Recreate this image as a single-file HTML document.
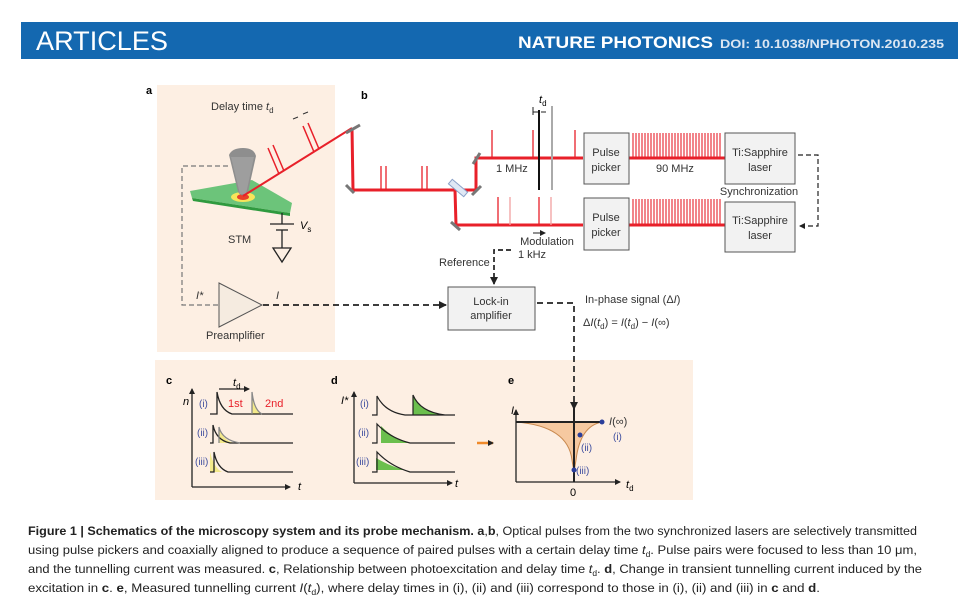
<!DOCTYPE html>
<html><head><meta charset="utf-8"><style>
body{margin:0;background:#fff;}
svg{display:block;font-family:"Liberation Sans",sans-serif;}
</style></head><body>
<svg width="978" height="610" viewBox="0 0 978 610" xmlns="http://www.w3.org/2000/svg">
<defs>
<marker id="ah" markerWidth="8" markerHeight="8" refX="7" refY="4" orient="auto" markerUnits="userSpaceOnUse"><path d="M0,0L8,4L0,8z" fill="#222"/></marker>
<marker id="ah2" markerWidth="6" markerHeight="6" refX="5" refY="3" orient="auto" markerUnits="userSpaceOnUse"><path d="M0,0L6,3L0,6z" fill="#222"/></marker>
</defs>
<rect x="21" y="22" width="937" height="37" fill="#1468b0"/>
<text x="36" y="50" fill="#fff" font-size="27" textLength="132" lengthAdjust="spacingAndGlyphs">ARTICLES</text>
<text x="518" y="48" fill="#fff" font-size="17" font-weight="bold" textLength="195" lengthAdjust="spacingAndGlyphs">NATURE PHOTONICS</text>
<text x="720" y="48" fill="#dbe6f2" font-size="12" font-weight="bold" textLength="224" lengthAdjust="spacingAndGlyphs">DOI: 10.1038/NPHOTON.2010.235</text>

<rect x="157" y="85" width="178" height="267" fill="#fdefe3"/>
<rect x="155" y="360" width="538" height="140" fill="#fdefe3"/>
<text x="146" y="94" font-size="11" font-weight="bold">a</text>
<text x="361" y="99" font-size="11" font-weight="bold">b</text>
<text x="211" y="110" font-size="11" fill="#333">Delay time <tspan font-style="italic">t</tspan><tspan font-size="8" dy="3">d</tspan></text>

<polygon points="190,191 252,180 292,203 290,213 192,198" fill="#6cc47a"/>
<polygon points="192,198 290,213 290,216 193,201" fill="#2f9a3f"/>
<ellipse cx="243" cy="197" rx="12" ry="5" fill="#f6e55a"/>
<ellipse cx="243" cy="197" rx="6" ry="3" fill="#e8402a"/>
<path d="M229,155 Q232,148 243,148 Q254,148 256,156 L248,192 Q243,199 238,192 Z" fill="#8e8e8e"/>
<path d="M231,157 L240,194 L246,194 L254,157Z" fill="#a8a8a8" opacity=".6"/>
<line x1="352" y1="128" x2="243" y2="196" stroke="#e8202a" stroke-width="2"/>
<g stroke="#e8202a" stroke-width="1.5" fill="none">
<path d="M279,174 L268,148 M284,171 L273,145 M314,152 L303,126 M319,149 L308,123"/>
</g>
<path d="M293,119 l5,-2 M303,114 l5,-2" stroke="#333" stroke-width="1"/>
<g stroke="#222" stroke-width="1.3" fill="none">
<line x1="282" y1="213" x2="282" y2="224"/><line x1="270" y1="224" x2="294" y2="224"/>
<line x1="276" y1="230" x2="288" y2="230"/><line x1="282" y1="230" x2="282" y2="248"/>
<polygon points="273,248 291,248 282,262"/></g>
<text x="300" y="229" font-size="11" font-style="italic">V<tspan font-size="8" dy="3" font-style="normal">s</tspan></text>
<text x="228" y="243" font-size="11" fill="#333">STM</text>
<polyline points="218,305 182,305 182,166 228,166" fill="none" stroke="#777" stroke-dasharray="5,3" stroke-width="1.2"/>
<polygon points="219,283 219,327 262,305" fill="#f5ebe0" stroke="#555" stroke-width="1"/>
<text x="196" y="299" font-size="11" font-style="italic" fill="#333">I*</text>
<text x="276" y="299" font-size="11" font-style="italic" fill="#333">I</text>
<text x="206" y="339" font-size="11" fill="#333">Preamplifier</text>
<line x1="263" y1="305" x2="446" y2="305" stroke="#222" stroke-width="1.7" stroke-dasharray="6,4" marker-end="url(#ah)"/>

<g stroke="#e8202a" stroke-width="3" fill="none">
<polyline points="352,128 353,190 476,190 476,158 583,158"/>
<polyline points="455,190 456,225 583,225"/>
<line x1="629" y1="158" x2="725" y2="158"/>
<line x1="629" y1="225" x2="725" y2="225"/>
</g>
<g stroke="#e8202a" stroke-width="1.3" fill="none">
<path d="M381,190v-24M386,190v-24M422,190v-24M427,190v-24"/>
<path d="M492,158v-28M533,158v-28M575,158v-28"/>
<path d="M498,225v-28M539,225v-28"/>
</g>
<g stroke="#f0a0a0" stroke-width="1.3"><path d="M510,225v-28M551,225v-28"/></g>
<g stroke="#e8202a" stroke-width="1.1">
<path d="M633,158v-25M636,158v-25M639,158v-25M642,158v-25M645,158v-25M648,158v-25M651,158v-25M654,158v-25M657,158v-25M660,158v-25M663,158v-25M666,158v-25M669,158v-25M672,158v-25M675,158v-25M678,158v-25M681,158v-25M684,158v-25M687,158v-25M690,158v-25M693,158v-25M696,158v-25M699,158v-25M702,158v-25M705,158v-25M708,158v-25M711,158v-25M714,158v-25M717,158v-25M720,158v-25"/>
<path d="M633,225v-26M636,225v-26M639,225v-26M642,225v-26M645,225v-26M648,225v-26M651,225v-26M654,225v-26M657,225v-26M660,225v-26M663,225v-26M666,225v-26M669,225v-26M672,225v-26M675,225v-26M678,225v-26M681,225v-26M684,225v-26M687,225v-26M690,225v-26M693,225v-26M696,225v-26M699,225v-26M702,225v-26M705,225v-26M708,225v-26M711,225v-26M714,225v-26M717,225v-26M720,225v-26"/>
</g>
<g stroke="#777" stroke-width="3">
<line x1="346" y1="133" x2="360" y2="125"/><line x1="346" y1="185" x2="354" y2="193"/>
<line x1="473" y1="164" x2="480" y2="153"/><line x1="472" y1="195" x2="481" y2="186"/>
<line x1="451" y1="222" x2="460" y2="230"/></g>
<rect x="448" y="185" width="20" height="6" fill="#dfe8f5" stroke="#8aa0c8" stroke-width="1" transform="rotate(40 458 188)"/>
<line x1="539" y1="110" x2="539" y2="190" stroke="#111" stroke-width="2"/>
<line x1="552" y1="106" x2="552" y2="190" stroke="#aaa" stroke-width="2"/>
<path d="M533,112h5M546,112h-5M533,107v8" stroke="#222" stroke-width="1"/>
<text x="539" y="103" font-size="11" font-style="italic">t<tspan font-size="8" dy="3" font-style="normal">d</tspan></text>
<text x="496" y="172" font-size="11" fill="#333">1 MHz</text>
<text x="656" y="172" font-size="11" fill="#333">90 MHz</text>
<g fill="#f2f2f2" stroke="#555" stroke-width="1">
<rect x="584" y="133" width="45" height="51"/><rect x="584" y="198" width="45" height="52"/>
<rect x="725" y="133" width="70" height="51"/><rect x="725" y="202" width="70" height="50"/>
<rect x="448" y="287" width="87" height="43"/></g>
<g font-size="11" fill="#333" text-anchor="middle">
<text x="606" y="156">Pulse</text><text x="606" y="171">picker</text>
<text x="606" y="221">Pulse</text><text x="606" y="236">picker</text>
<text x="760" y="156">Ti:Sapphire</text><text x="760" y="171">laser</text>
<text x="760" y="224">Ti:Sapphire</text><text x="760" y="239">laser</text>
<text x="491" y="305">Lock-in</text><text x="491" y="319">amplifier</text>
<text x="759" y="195">Synchronization</text>
<text x="547" y="245">Modulation</text><text x="532" y="258">1 kHz</text>
</g>
<path d="M533,233h12" stroke="#222" stroke-width="1" marker-end="url(#ah2)"/>
<polyline points="798,155 818,155 818,226 800,226" fill="none" stroke="#222" stroke-width="1.2" stroke-dasharray="5,3" marker-end="url(#ah2)"/>
<polyline points="511,250 494,250 494,284" fill="none" stroke="#222" stroke-width="1.7" stroke-dasharray="5,3" marker-end="url(#ah)"/>
<text x="439" y="266" font-size="11" fill="#333">Reference</text>
<polyline points="537,303 574,303 574,409" fill="none" stroke="#222" stroke-width="1.7" stroke-dasharray="6,4" marker-end="url(#ah)"/>
<text x="585" y="303" font-size="11" fill="#333">In-phase signal (Δ<tspan font-style="italic">I</tspan>)</text>
<text x="583" y="326" font-size="11" fill="#333">Δ<tspan font-style="italic">I</tspan>(<tspan font-style="italic">t</tspan><tspan font-size="8" dy="3">d</tspan><tspan dy="-3">) = </tspan><tspan font-style="italic">I</tspan>(<tspan font-style="italic">t</tspan><tspan font-size="8" dy="3">d</tspan><tspan dy="-3">) − </tspan><tspan font-style="italic">I</tspan>(∞)</text>

<!-- c -->
<text x="166" y="384" font-size="11" font-weight="bold">c</text>
<path d="M192,487V389M192,487H290" stroke="#222" stroke-width="1.3" fill="none" marker-end="url(#ah2)"/>
<path d="M192,390V389" stroke="#222" marker-end="url(#ah2)"/>
<text x="298" y="490" font-size="11" font-style="italic">t</text>
<text x="183" y="405" font-size="11" font-style="italic">n</text>
<g font-size="10" fill="#4050a0"><text x="199" y="407">(i)</text><text x="197" y="436">(ii)</text><text x="195" y="465">(iii)</text></g>
<g fill="#f3e98a" stroke="none">
<path d="M252,414 V392 Q254,410 262,414Z"/><path d="M219,443 V426 Q222,440 234,443Z"/><path d="M210,472 V452 Q214,468 222,472Z"/>
</g>
<g stroke="#222" stroke-width="1.3" fill="none">
<path d="M210,414H217V392Q220,410 232,414H293"/><path d="M252,414V392Q254,410 262,414" stroke="#888"/>
<path d="M210,443H213V425Q216,440 230,443H293"/><path d="M219,443V427Q222,440 240,443" stroke="#888"/>
<path d="M210,472H214V452Q217,468 228,472H293" /></g>
<path d="M219,389H249" stroke="#222" stroke-width="1.2" marker-end="url(#ah2)"/>
<text x="233" y="386" font-size="11" font-style="italic">t<tspan font-size="8" dy="3" font-style="normal">d</tspan></text>
<text x="228" y="407" font-size="11" fill="#e8202a">1st</text><text x="265" y="407" font-size="11" fill="#e8202a">2nd</text>

<!-- d -->
<text x="331" y="384" font-size="11" font-weight="bold">d</text>
<path d="M354,483V392M354,483H452" stroke="#222" stroke-width="1.3" fill="none" marker-end="url(#ah2)"/>
<path d="M354,393V392" stroke="#222" marker-end="url(#ah2)"/>
<text x="455" y="487" font-size="11" font-style="italic">t</text>
<text x="341" y="404" font-size="11" font-style="italic">I*</text>
<g font-size="10" fill="#4050a0"><text x="360" y="407">(i)</text><text x="358" y="436">(ii)</text><text x="356" y="465">(iii)</text></g>
<path d="M413,415V395Q420,412 445,415Z" fill="#6bbf4d"/>
<path d="M381,443V426Q395,440 410,443Z" fill="#6bbf4d"/>
<path d="M376,470V458Q392,467 405,470Z" fill="#6bbf4d"/>
<g stroke="#222" stroke-width="1.2" fill="none">
<path d="M372,415H377V396Q385,412 405,415H455M413,415V395Q420,412 445,415"/>
<path d="M372,443H377V424Q390,438 410,443H455"/>
<path d="M372,472H377V452Q390,466 410,472H455"/></g>
<path d="M477,443H493" stroke="#f08a2a" stroke-width="2.5" marker-end="url(#ah2)"/>

<!-- e -->
<text x="508" y="384" font-size="11" font-weight="bold">e</text>
<path d="M516,422 Q568,426 572,460 L574,472 L576,460 Q580,426 602,422Z" fill="#f6c9a0"/>
<path d="M516,422 Q568,426 572,460 L574,472 L576,460 Q580,426 602,422" stroke="#c98a50" fill="none"/>
<path d="M516,482V410M516,482H620" stroke="#222" stroke-width="1.3" fill="none" marker-end="url(#ah2)"/>
<path d="M516,412V410" stroke="#222" marker-end="url(#ah2)"/>
<line x1="516" y1="422" x2="603" y2="422" stroke="#222" stroke-width="2"/>
<line x1="574" y1="408" x2="574" y2="482" stroke="#222" stroke-width="2"/>
<g fill="#2a3e9a"><circle cx="602" cy="422" r="2.5"/><circle cx="580" cy="435" r="2.5"/><circle cx="574" cy="470" r="2.5"/></g>
<g font-size="10" fill="#4050a0"><text x="613" y="440">(i)</text><text x="581" y="451">(ii)</text><text x="576" y="474">(iii)</text></g>
<text x="609" y="425" font-size="11" fill="#333"><tspan font-style="italic">I</tspan>(∞)</text>
<text x="511" y="414" font-size="11" font-style="italic">I</text>
<text x="570" y="496" font-size="11">0</text>
<text x="626" y="488" font-size="11" font-style="italic">t<tspan font-size="8" dy="3" font-style="normal">d</tspan></text>

<!-- caption -->
<g font-size="12.3" fill="#222">
<text x="28" y="535" textLength="889" lengthAdjust="spacingAndGlyphs"><tspan font-weight="bold">Figure 1 | Schematics of the microscopy system and its probe mechanism. a</tspan>,<tspan font-weight="bold">b</tspan>, Optical pulses from the two synchronized lasers are selectively transmitted</text>
<text x="28" y="554" textLength="889" lengthAdjust="spacingAndGlyphs">using pulse pickers and coaxially aligned to produce a sequence of paired pulses with a certain delay time <tspan font-style="italic">t</tspan><tspan font-size="8" dy="3">d</tspan><tspan dy="-3">. Pulse pairs were focused to less than 10 μm,</tspan></text>
<text x="28" y="573" textLength="894" lengthAdjust="spacingAndGlyphs">and the tunnelling current was measured. <tspan font-weight="bold">c</tspan>, Relationship between photoexcitation and delay time <tspan font-style="italic">t</tspan><tspan font-size="8" dy="3">d</tspan><tspan dy="-3">. </tspan><tspan font-weight="bold">d</tspan>, Change in transient tunnelling current induced by the</text>
<text x="28" y="592" textLength="792" lengthAdjust="spacingAndGlyphs">excitation in <tspan font-weight="bold">c</tspan>. <tspan font-weight="bold">e</tspan>, Measured tunnelling current <tspan font-style="italic">I</tspan>(<tspan font-style="italic">t</tspan><tspan font-size="8" dy="3">d</tspan><tspan dy="-3">), where delay times in (i), (ii) and (iii) correspond to those in (i), (ii) and (iii) in </tspan><tspan font-weight="bold">c</tspan> and <tspan font-weight="bold">d</tspan>.</text>
</g>
</svg>
</body></html>
